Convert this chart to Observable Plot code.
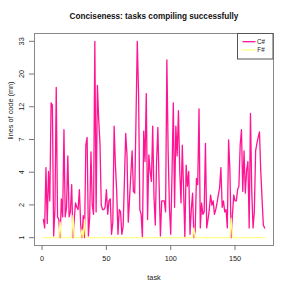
<!DOCTYPE html>
<html><head><meta charset="utf-8">
<script src="https://cdn.jsdelivr.net/npm/d3@7"></script>
<script src="https://cdn.jsdelivr.net/npm/@observablehq/plot@0.6"></script>
<style>html,body{margin:0;padding:0;background:#fff;} svg{display:block;}</style>
</head><body><div id="chart"></div>
<script>
const title = "Conciseness: tasks compiling successfully";
const xLabel = "task";
const yLabel = "lines of code (mn)";
const seriesNames = ["C#", "F#"];
const seriesColors = ["#ff1493", "#ffff88"];
const xTicks = [0, 50, 100, 150];
const yTickLabels = [1, 2, 4, 7, 12, 20, 33];

const csharp = [
  1.6, 1.3, 4.5, 1.45, 4.2, 2.4, 13, 12.5, 1.05, 2.0,
  16.5, 1.7, 1.6, 1.0, 2.5, 1.7, 8.5, 1.7, 2.1, 5.5,
  1.7, 1.9, 3.3, 1.0, 1.6, 2.3, 2.1, 2.0, 3.0, 1.4,
  1.0, 1.75, 1.0, 6.6, 7.5, 1.05, 1.7, 5.9, 2.2, 1.8,
  33, 1.9, 17, 10, 6.8, 2.2, 2.0, 2.0, 2.1, 3.0,
  1.8, 2.4, 2.5, 1.1, 1.5, 9.0, 4.7, 2.9, 1.1, 2.0,
  1.9, 1.1, 1.35, 3.5, 8.0, 5.6, 1.5, 2.5, 4.0, 6.0,
  2.9, 2.8, 10, 33, 15, 2.0, 1.8, 1.0, 8.3, 5,
  15, 1.6, 5.6, 4.2, 3.5, 9, 2.6, 1.4, 5, 8.8,
  3.2, 1.05, 2.4, 2.4, 2.4, 1.9, 25, 5.9, 2.1, 1.1,
  4, 13, 2.1, 9, 5.5, 11.5, 4.3, 2.3, 6.6, 3,
  1.0, 4.7, 3.2, 4.2, 1.1, 2.0, 2.8, 1.0, 1.2, 3.7,
  3.3, 11.8, 1.3, 2.3, 1.8, 1.9, 6.8, 1.3, 1.6, 2.0,
  2.7, 2.2, 2.4, 1.8, 2.0, 2.3, 2.7, 3.1, 4.5, 2.1,
  2.4, 1.9, 2.0, 1.3, 7.2, 4.3, 1.0, 1.8, 2.7, 2.4,
  2.4, 3.0, 3.2, 6.6, 8.5, 2.9, 6.0, 2.8, 4.3, 5.0,
  1.3, 11, 2.9, 1.3, 1.9, 6, 6.8, 7.5, 8.2, 4.2,
  2.5, 1.4, 1.3
];
const fsharp = [
  1, 1, 1, 1, 1, 1, 1, 1, 1, 1,
  1, 1, 1, 1.5, 1, 1, 1, 1, 1, 1,
  1, 1, 1, 1.75, 1, 1, 1, 1, 1, 1,
  1.25, 1, 1.6, 1, 1, 1, 1, 1, 1, 1,
  1, 1, 1, 1, 1, 1, 1, 1, 1, 1,
  1, 1, 1, 1, 1, 1, 1, 1, 1, 1,
  1, 1, 1, 1, 1, 1, 1, 1, 1, 1,
  1, 1, 1, 1, 1, 1, 1, 1, 1, 1,
  1, 1, 1, 1, 1, 1, 1, 1, 1, 1,
  1, 1, 1, 1, 1, 1, 1, 1, 1, 1,
  1, 1, 1, 1, 1, 1, 1, 1, 1, 1,
  1, 1, 1, 1, 1, 1, 1, 1.3, 1, 1,
  1, 1, 1, 1, 1, 1, 1, 1, 1, 1,
  1, 1, 1, 1, 1, 1, 1, 1, 1, 1,
  1, 1, 1, 1, 1, 1, 1.65, 1, 1, 1,
  1, 1, 1, 1, 1, 1, 1, 1, 1, 1,
  1, 1, 1, 1, 1, 1, 1, 1, 1, 1,
  1, 1, 1
];

const rows = csharp.map((v, i) => ({task: i + 1, cs: v, fs: fsharp[i]}));
// tick positions: evenly spaced on the log(1+x) axis, labelled with rounded values
const yTickPos = yTickLabels.map((_, i) => 2 * Math.pow(17, i / 6) - 1);

const font = "'Liberation Sans', Arial, Helvetica, sans-serif";
const chart = Plot.plot({
  width: 291, height: 291,
  marginTop: 33, marginRight: 18, marginBottom: 46, marginLeft: 34,
  style: {fontFamily: font, fontSize: "7.3px", background: "#fff", color: "#222", overflow: "visible"},
  x: {domain: [-5.9, 179.9], axis: null},
  y: {type: "symlog", constant: 1, domain: [0.786, 37.06], axis: null},
  marks: [
    Plot.line(rows, {x: "task", y: "cs", stroke: seriesColors[0], strokeWidth: 1.3}),
    Plot.line(rows, {x: "task", y: "fs", stroke: seriesColors[1], strokeWidth: 1.3}),
    Plot.frame({stroke: "#888", strokeWidth: 1}),
    Plot.axisX({ticks: xTicks, tickSize: 5, tickPadding: 5, stroke: "#777", fill: "#222", label: null, fontSize: 7.3}),
    Plot.axisY({ticks: yTickPos, tickSize: 5, stroke: "#777", fill: "none", label: null}),
    Plot.text(yTickPos, {y: d => d, text: (d, i) => String(yTickLabels[i]), frameAnchor: "left", dx: -12.5, rotate: -90, textAnchor: "middle", lineAnchor: "middle", fill: "#222", fontSize: 7.3}),
    Plot.text([title], {frameAnchor: "top", dy: -17, fontWeight: "bold", fontSize: 8.2, fill: "#111", lineAnchor: "middle"}),
    Plot.text([xLabel], {frameAnchor: "bottom", dy: 32, fontSize: 7.3, fill: "#222", lineAnchor: "middle"}),
    Plot.text([yLabel], {frameAnchor: "left", dx: -24, rotate: -90, fontSize: 7.3, fill: "#222", lineAnchor: "middle"})
  ]
});
document.getElementById("chart").appendChild(chart);

// legend (top-right, inside frame)
const svg = d3.select(chart);
const lg = svg.append("g");
lg.append("rect").attr("x", 237.5).attr("y", 33.5).attr("width", 35.5).attr("height", 25.5)
  .attr("fill", "#fff").attr("stroke", "#555").attr("stroke-width", 1);
seriesNames.forEach((name, i) => {
  const yy = 41.7 + i * 8.3;
  lg.append("line").attr("x1", 242.5).attr("x2", 255.5).attr("y1", yy).attr("y2", yy)
    .attr("stroke", seriesColors[i]).attr("stroke-width", 1.3);
  lg.append("text").attr("x", 261).attr("y", yy).attr("dy", "0.35em")
    .attr("font-size", 6.3).attr("font-family", font).attr("fill", "#222").text(name);
});
</script>
</body></html>
